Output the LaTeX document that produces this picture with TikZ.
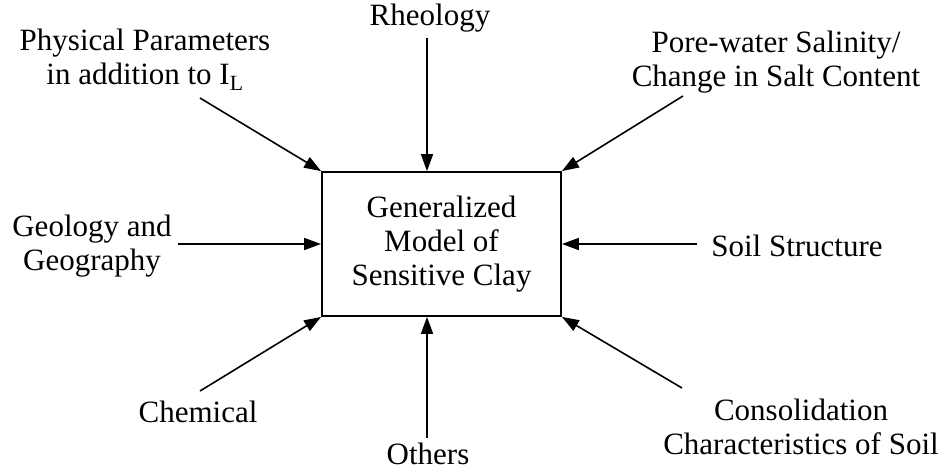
\documentclass[tikz,border=0pt]{standalone}
\usepackage{fontspec}
\setmainfont{Liberation Serif}
\usetikzlibrary{arrows.meta}

\begin{document}
\begin{tikzpicture}[x=1pt,y=-1pt,factor/.style={align=center,font=\fontsize{31}{34}\selectfont,inner sep=0pt},model/.style={draw,line width=1.8pt,minimum width=239pt,minimum height=144pt,align=center,font=\fontsize{31}{34}\selectfont},influence/.style={line width=1.6pt,-{Triangle[length=17pt,width=12pt]}}]
\useasboundingbox (0,0) rectangle (943,472);
\node[model] (M) at (441.5,244) {Generalized\\Model of\\Sensitive Clay};
\node[factor] (phys) at (145,60) {Physical Parameters\\in addition to I\textsubscript{L}};
\node[factor] (rheo) at (430,18) {Rheology};
\node[factor] (salt) at (776,62) {Pore-water Salinity/\\Change in Salt Content};
\node[factor] (geo) at (92,246) {Geology and\\Geography};
\node[factor] (soil) at (797,246) {Soil Structure};
\node[factor] (chem) at (198,412) {Chemical};
\node[factor] (oth) at (428,454) {Others};
\node[factor] (cons) at (801,427) {Consolidation\\Characteristics of Soil};
\coordinate (physS) at (200,98);
\coordinate (rheoS) at (427,38);
\coordinate (saltS) at (683,96);
\coordinate (geoS) at (178,244);
\coordinate (soilS) at (697,244);
\coordinate (chemS) at (200,391);
\coordinate (othS) at (427,438);
\coordinate (consS) at (682,388);
\draw[influence] (physS) -- (M.north west);
\draw[influence] (rheoS) -- (rheoS |- M.north);
\draw[influence] (saltS) -- (M.north east);
\draw[influence] (geoS) -- (geoS -| M.west);
\draw[influence] (soilS) -- (soilS -| M.east);
\draw[influence] (chemS) -- (M.south west);
\draw[influence] (othS) -- (othS |- M.south);
\draw[influence] (consS) -- (M.south east);
\end{tikzpicture}
\end{document}
